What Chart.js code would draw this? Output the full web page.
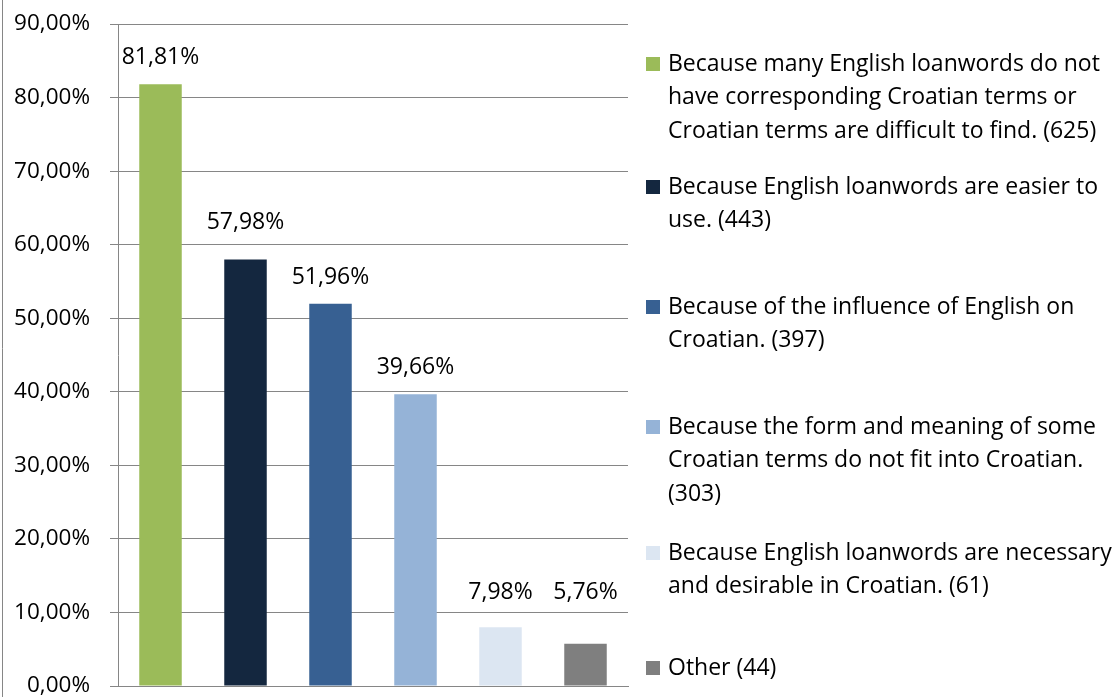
<!DOCTYPE html>
<html>
<head>
<meta charset="utf-8">
<script src="https://cdn.jsdelivr.net/npm/chart.js@4/dist/chart.umd.min.js"></script>
<style>
  html, body { margin: 0; padding: 0; background: #fff; overflow: hidden; }
  #wrap { width: 1118px; height: 697px; position: relative; }
  canvas { display: block; }
</style>
</head>
<body>
<div id="wrap"><canvas id="c" width="1118" height="697"></canvas></div>
<script>
// ---- Data ----
const legendLines = [
  ["Because many English loanwords do not", "have corresponding Croatian terms or", "Croatian terms are difficult to find. (625)"],
  ["Because English loanwords are easier to", "use. (443)"],
  ["Because of the influence of English on", "Croatian. (397)"],
  ["Because the form and meaning of some", "Croatian terms do not fit into Croatian.", "(303)"],
  ["Because English loanwords are necessary", "and desirable in Croatian. (61)"],
  ["Other (44)"]
];
const categories = legendLines.map(l => l.join(' '));
const values = [81.81, 57.98, 51.96, 39.66, 7.98, 5.76];
const barColors = ["#9BBB59", "#14273F", "#376092", "#95B3D7", "#DCE6F2", "#7F7F7F"];
const yMin = 0, yMax = 90, yStep = 10;

const FONT = "'Open Sans', 'Noto Sans', sans-serif";
const fmt = v => v.toFixed(2).replace('.', ',') + '%';

const framePlugin = {
  id: 'frame',
  beforeDraw(chart) {
    const ctx = chart.ctx;
    ctx.save();
    ctx.fillStyle = '#fff';
    ctx.fillRect(0, 0, chart.width, chart.height);
    ctx.strokeStyle = '#868686';
    ctx.lineWidth = 1;
    ctx.beginPath();
    ctx.moveTo(2.5, 0);
    ctx.lineTo(2.5, chart.height);
    ctx.stroke();
    ctx.restore();
  }
};

const dataLabelPlugin = {
  id: 'dataLabels',
  afterDatasetsDraw(chart, args, opts) {
    const ctx = chart.ctx;
    const meta = chart.getDatasetMeta(0);
    ctx.save();
    ctx.font = opts.font;
    ctx.fillStyle = '#000';
    ctx.textAlign = 'center';
    ctx.textBaseline = 'middle';
    meta.data.forEach((bar, i) => {
      ctx.fillText(fmt(values[i]), bar.x, bar.y - opts.offsets[i]);
    });
    ctx.restore();
  }
};

const legendPlugin = {
  id: 'sideLegend',
  afterDraw(chart, args, opts) {
    const ctx = chart.ctx;
    ctx.save();
    ctx.font = opts.font;
    ctx.textBaseline = 'middle';
    ctx.textAlign = 'left';
    legendLines.forEach((lines, i) => {
      const y0 = opts.itemY[i];
      ctx.fillStyle = barColors[i];
      ctx.fillRect(opts.boxX, y0 - opts.box / 2, opts.box, opts.box);
      ctx.fillStyle = '#000';
      lines.forEach((t, j) => ctx.fillText(t, opts.textX, y0 + j * opts.lineHeight));
    });
    ctx.restore();
  }
};

new Chart(document.getElementById('c'), {
  type: 'bar',
  data: {
    labels: categories,
    datasets: [{
      data: values,
      backgroundColor: barColors,
      borderWidth: 0,
      barPercentage: 0.5,
      categoryPercentage: 1.0
    }]
  },
  options: {
    responsive: false,
    devicePixelRatio: 1,
    animation: false,
    events: [],
    layout: { padding: { top: 24, right: 490, bottom: 0, left: 0 } },
    plugins: {
      legend: { display: false },
      tooltip: { enabled: false },
      dataLabels: { font: "23px " + FONT, offsets: [27, 37, 26, 27, 35, 51] },
      sideLegend: {
        font: "23px " + FONT,
        itemY: [64, 187, 307, 427, 553, 668],
        boxX: 646, box: 14, textX: 668, lineHeight: 33.5
      }
    },
    scales: {
      x: {
        ticks: { display: false },
        grid: { display: false },
        border: { display: true, color: '#868686', width: 1 },
        afterFit(s) { s.height = 11; s.paddingLeft = 0; s.paddingRight = 0; }
      },
      y: {
        min: yMin, max: yMax,
        ticks: {
          stepSize: yStep,
          callback: v => fmt(v),
          font: { family: FONT, size: 22.5 },
          color: '#000',
          padding: 20
        },
        grid: { color: '#868686', lineWidth: 1, tickLength: 8 },
        border: { display: true, color: '#868686', width: 1 },
        afterFit(s) { s.width = 118; s.paddingTop = 0; s.paddingBottom = 0; }
      }
    }
  },
  plugins: [framePlugin, dataLabelPlugin, legendPlugin]
});
</script>
</body>
</html>
